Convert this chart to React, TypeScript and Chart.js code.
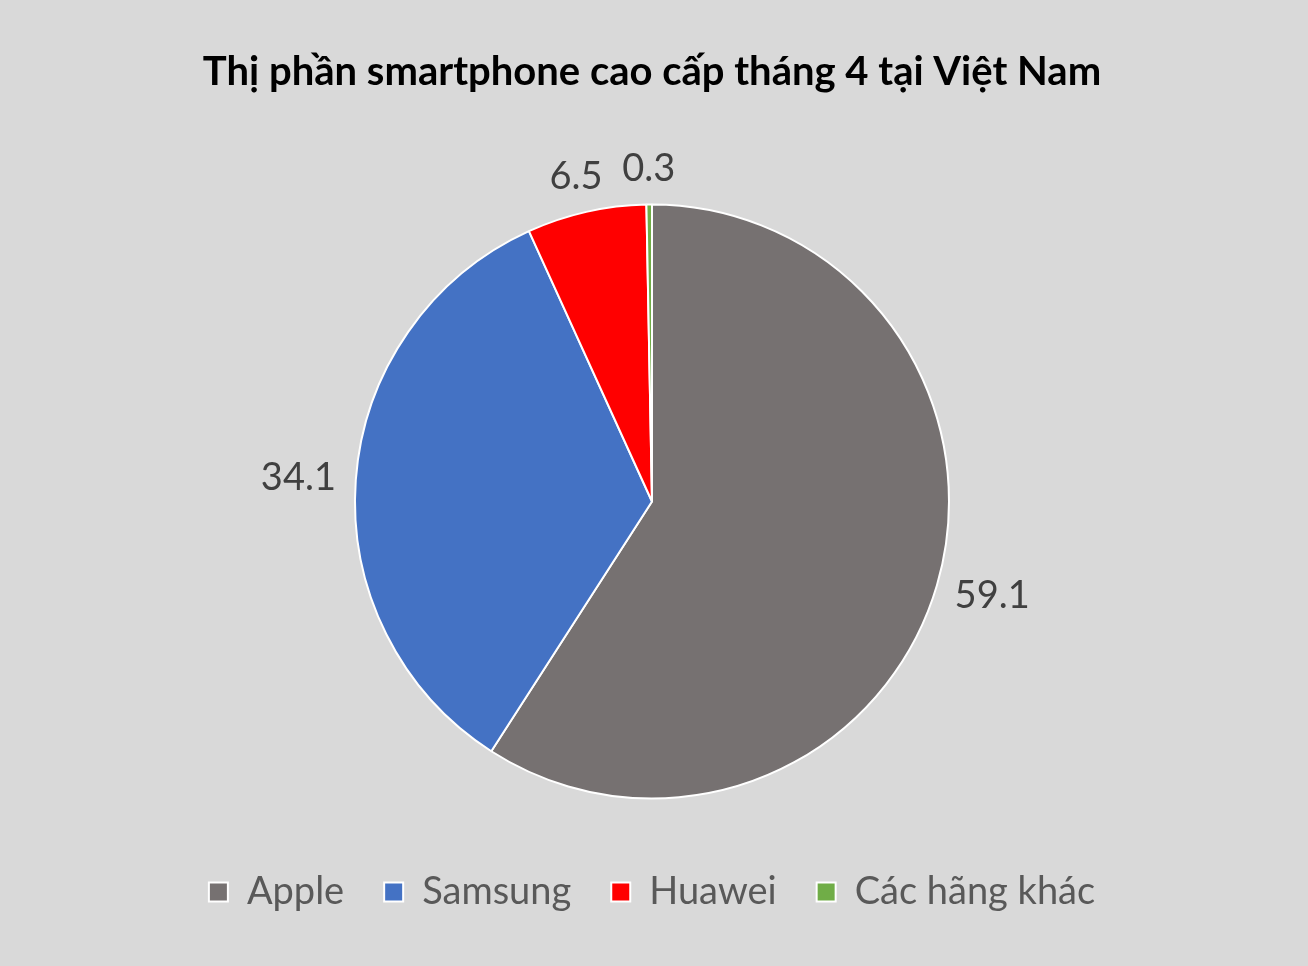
import React, { useEffect, useRef } from "react";
import { Chart, registerables } from "chart.js";

Chart.register(...registerables);

const TITLE = "Thị phần smartphone cao cấp tháng 4 tại Việt Nam";
const categories = ["Apple", "Samsung", "Huawei", "Các hãng khác"];
const shares = [59.1, 34.1, 6.5, 0.3];
const sliceColors = ["#767171", "#4472C4", "#FF0000", "#70AD47"];

const FONT = "Lato, 'Open Sans', sans-serif";

const outsideLabels = {
  id: "outsideLabels",
  afterDatasetsDraw(chart: any) {
    const ctx = chart.ctx;
    const meta = chart.getDatasetMeta(0);
    const data = chart.data.datasets[0].data;
    ctx.save();
    ctx.font = `38px ${FONT}`;
    ctx.fillStyle = "#404040";
    ctx.textAlign = "center";
    ctx.textBaseline = "middle";
    meta.data.forEach((arc: any, i: number) => {
      const { x, y, startAngle, endAngle, outerRadius } = arc.getProps(
        ["x", "y", "startAngle", "endAngle", "outerRadius"],
        true
      );
      const mid = (startAngle + endAngle) / 2;
      const dx = Math.cos(mid);
      const dy = Math.sin(mid);
      const gap = 20;
      const text = String(data[i]);
      const w = ctx.measureText(text).width;
      const h = 32;
      const ax = x + (outerRadius + gap) * dx + (w / 2) * dx;
      const ay = y + (outerRadius + gap) * dy + (h / 2) * dy;
      ctx.fillText(text, ax, ay);
    });
    ctx.restore();
  },
};

export default function App() {
  const ref = useRef<HTMLCanvasElement | null>(null);
  useEffect(() => {
    if (!ref.current) return;
    const chart = new Chart(ref.current, {
      type: "pie",
      data: {
        labels: categories,
        datasets: [
          {
            data: shares,
            backgroundColor: sliceColors,
            borderColor: "#FFFFFF",
            borderWidth: 2,
            radius: 297,
          },
        ],
      },
      options: {
        animation: false,
        responsive: false,
        layout: { padding: { left: 0, right: 4, top: 0, bottom: 45 } },
        plugins: {
          title: {
            display: true,
            text: TITLE,
            color: "#000000",
            font: { family: FONT, size: 40, weight: "bold" },
            padding: { top: 48, bottom: 74 },
          },
          legend: {
            display: true,
            position: "bottom",
            labels: {
              color: "#595959",
              font: { family: FONT, size: 38 },
              boxWidth: 19,
              boxHeight: 19,
              padding: 40,
            },
          },
          tooltip: { enabled: false },
        },
      },
      plugins: [outsideLabels],
    });
    return () => chart.destroy();
  }, []);
  return (
    <div
      style={{
        position: "absolute",
        left: 0,
        top: 0,
        width: 1308,
        height: 966,
        background: "#D9D9D9",
      }}
    >
      <canvas ref={ref} width={1308} height={966} style={{ width: 1308, height: 966 }} />
    </div>
  );
}
